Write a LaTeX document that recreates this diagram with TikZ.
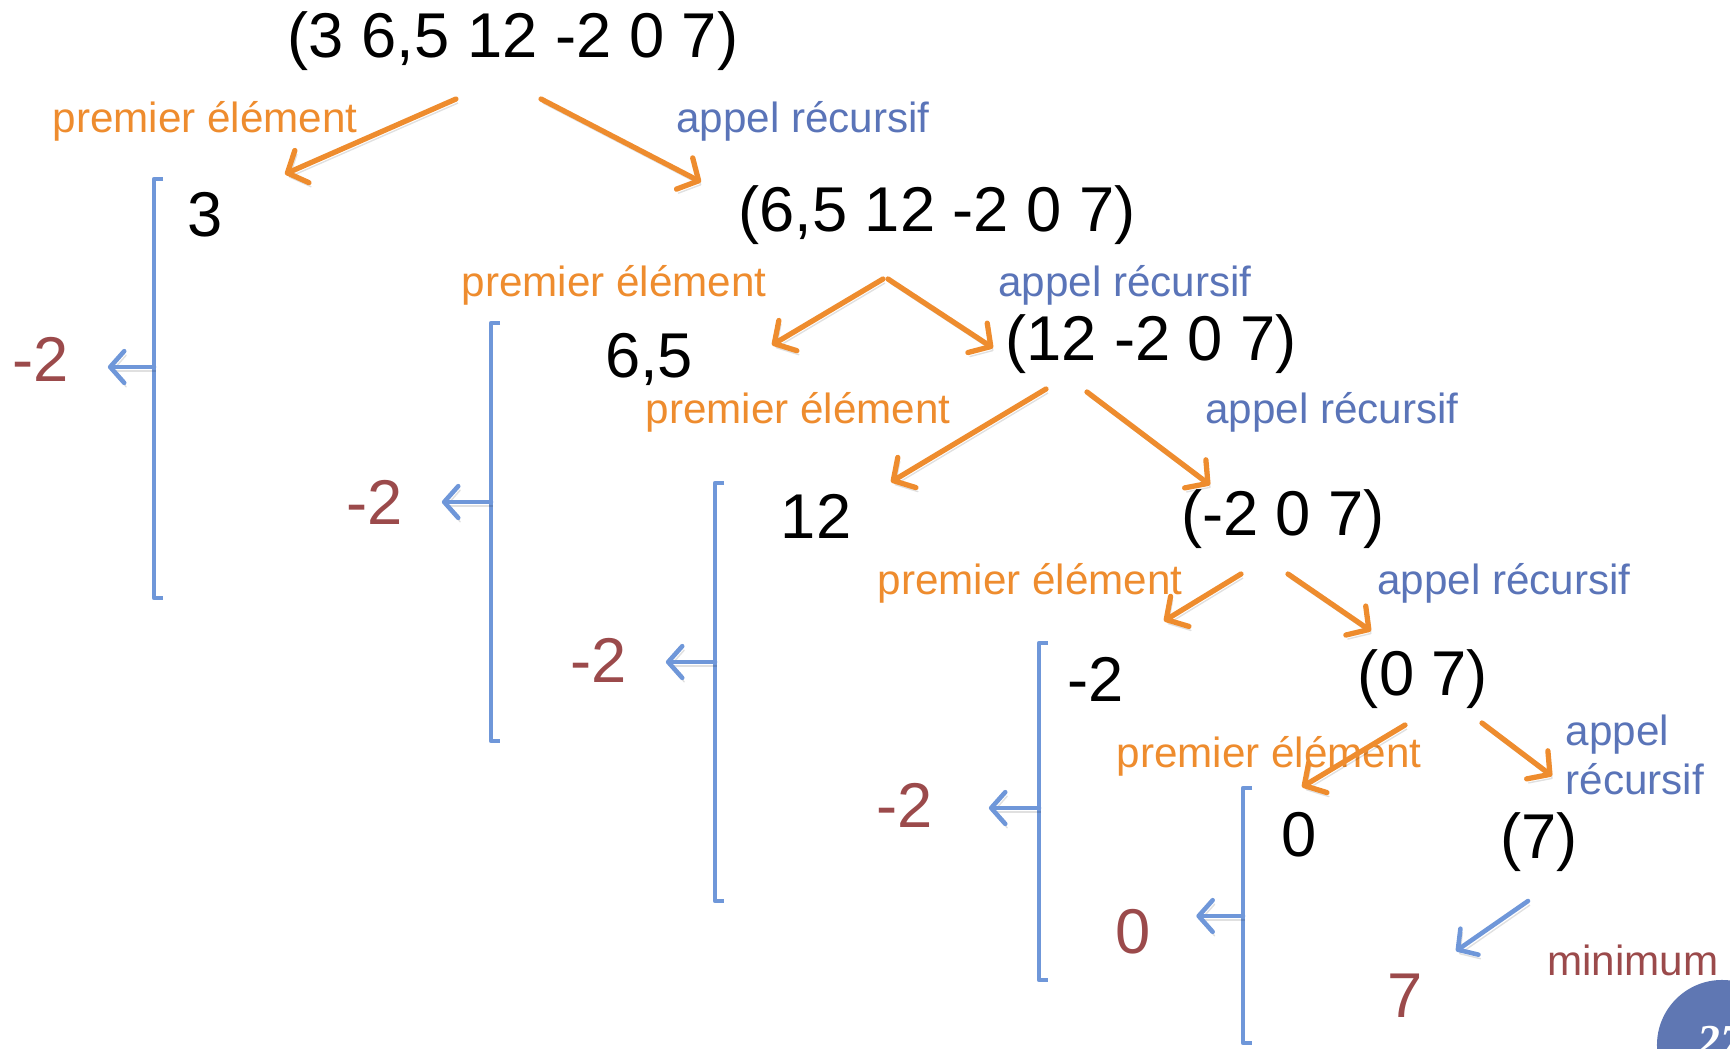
\documentclass[tikz,border=0pt]{standalone}
\usepackage{fontspec}
\setmainfont{Liberation Sans}
\newfontfamily\pagefont{Liberation Serif}
\usetikzlibrary{arrows.meta}

\definecolor{orangeA}{HTML}{EE8C2E}
\definecolor{appelblue}{HTML}{5A74B8}
\definecolor{brkblue}{HTML}{6F97D9}
\definecolor{minred}{HTML}{9B4A4B}
\definecolor{pageblue}{HTML}{5F77B3}

\tikzset{
	liste/.style={font=\fontsize{18}{20}\selectfont, inner sep=0pt},
	mini/.style={liste, text=minred},
	premier/.style={font=\fontsize{12}{14}\selectfont, text=orangeA, inner sep=0pt},
	appel/.style={premier, text=appelblue},
	ombre/.style={preaction={draw=black, opacity=0.12, transform canvas={shift={(0.02cm,-0.04cm)}}}},
	oarr/.style={ombre, draw=orangeA, line width=1.5pt, line cap=round, -{Straight Barb[length=4.5pt,width=10pt,round]}},
	barr/.style={ombre, draw=brkblue, line width=1.3pt, line cap=round, -{Straight Barb[length=4pt,width=9pt,round]}},
	brk/.style={draw=brkblue, line width=1.3pt}
}

\begin{document}
\begin{tikzpicture}[x=0.01cm, y=-0.01cm, line join=round]
	\useasboundingbox (0,0) rectangle (1730,1048);
	
	% listes
	\node[liste] (l0) at (513,41) {(3 6,5 12 -2 0 7)};
	\node[liste] (l1) at (937,215) {(6,5 12 -2 0 7)};
	\node[liste] (l2) at (1151,344) {(12 -2 0 7)};
	\node[liste] (l3) at (1283,519) {(-2 0 7)};
	\node[liste] (l4) at (1423,679) {(0 7)};
	\node[liste] (l5) at (1539,842) {(7)};
	
	% premiers elements
	\node[liste] (h0) at (205,215) {3};
	\node[liste] (h1) at (649,359) {6,5};
	\node[liste] (h2) at (816,516) {12};
	\node[liste] (h3) at (1096,679) {-2};
	\node[liste] (h4) at (1299,835) {0};
	
	% etiquettes
	\node[premier] (pe0) at (205,121) {premier élément};
	\node[appel] (ar0) at (803,121) {appel récursif};
	\node[premier] (pe1) at (614,285) {premier élément};
	\node[appel] (ar1) at (1125,285) {appel récursif};
	\node[premier] (pe2) at (798,412) {premier élément};
	\node[appel] (ar2) at (1332,412) {appel récursif};
	\node[premier] (pe3) at (1030,583) {premier élément};
	\node[appel] (ar3) at (1504,583) {appel récursif};
	\node[premier] (pe4) at (1269,756) {premier élément};
	\node[appel, align=left, anchor=west] (ar4) at (1565,755) {appel\\récursif};
	
	% pointes des fleches
	\coordinate (t0l) at (285,174);
	\coordinate (t0r) at (701,182);
	\coordinate (t1l) at (772,345);
	\coordinate (t1r) at (993,348);
	\coordinate (t2l) at (891,482);
	\coordinate (t2r) at (1210,485);
	\coordinate (t3l) at (1164,621);
	\coordinate (t3r) at (1371,631);
	\coordinate (t4l) at (1302,787);
	\coordinate (t4r) at (1552,776);
	\coordinate (t5) at (1456,951);
	
	\draw[oarr] ([shift={(-57,58)}]l0.center) -- (t0l);
	\draw[oarr] ([shift={(28,58)}]l0.center) -- (t0r);
	\draw[oarr] ([shift={(-54,64)}]l1.center) -- (t1l);
	\draw[oarr] ([shift={(-49,64)}]l1.center) -- (t1r);
	\draw[oarr] ([shift={(-105,45)}]l2.center) -- (t2l);
	\draw[oarr] ([shift={(-64,48)}]l2.center) -- (t2r);
	\draw[oarr] ([shift={(-42,55)}]l3.center) -- (t3l);
	\draw[oarr] ([shift={(5,55)}]l3.center) -- (t3r);
	\draw[oarr] ([shift={(-18,46)}]l4.center) -- (t4l);
	\draw[oarr] ([shift={(59,44)}]l4.center) -- (t4r);
	\draw[barr] ([shift={(-11,59)}]l5.center) -- (t5);
	
	% minimums
	\node[mini] (m0) at (41,359) {-2};
	\node[mini] (m1) at (375,502) {-2};
	\node[mini] (m2) at (599,660) {-2};
	\node[mini] (m3) at (905,805) {-2};
	\node[mini] (m4) at (1133,932) {0};
	\node[mini] (m5) at (1405,996) {7};
	\node[premier, text=minred] (mn) at (1633,960) {minimum};
	
	% crochets
	\draw[brk] (163,179) -- (154,179) -- (154,598) -- (163,598);
	\draw[brk] (500,323) -- (491,323) -- (491,741) -- (500,741);
	\draw[brk] (724,483) -- (715,483) -- (715,901) -- (724,901);
	\draw[brk] (1048,643) -- (1039,643) -- (1039,980) -- (1048,980);
	\draw[brk] (1252,788) -- (1243,788) -- (1243,1043) -- (1252,1043);
	
	\coordinate (b0) at (154,367);
	\coordinate (b1) at (491,502);
	\coordinate (b2) at (715,662);
	\coordinate (b3) at (1039,808);
	\coordinate (b4) at (1243,916);
	
	\draw[barr, shorten >=0.38cm] (b0) -- (b0 -| m0.east);
	\draw[barr, shorten >=0.38cm] (b1) -- (b1 -| m1.east);
	\draw[barr, shorten >=0.38cm] (b2) -- (b2 -| m2.east);
	\draw[barr, shorten >=0.55cm] (b3) -- (b3 -| m3.east);
	\draw[barr, shorten >=0.45cm] (b4) -- (b4 -| m4.east);
	
	% numero de page
	\fill[pageblue] (1722,1045) circle (0.65cm);
	\node[font=\pagefont\bfseries\itshape\fontsize{13}{13}\selectfont, text=white, anchor=base west, inner sep=0pt] (pg) at (1697,1056) {27};
\end{tikzpicture}
\end{document}
